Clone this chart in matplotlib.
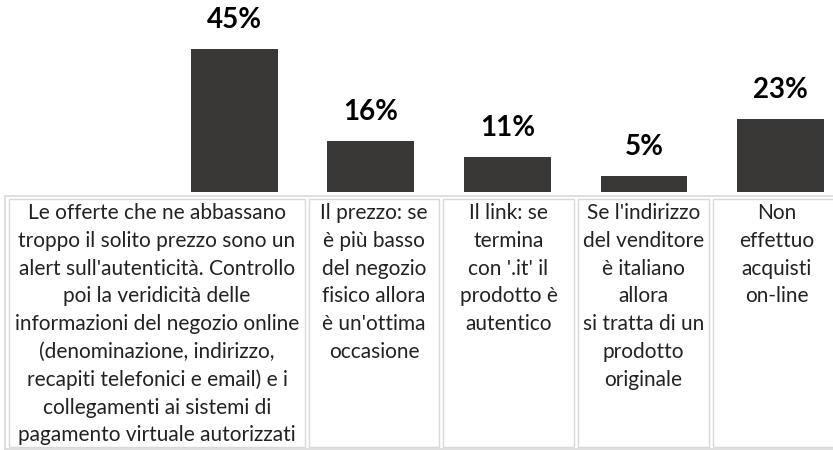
import matplotlib.pyplot as plt
from matplotlib.patches import Rectangle

# survey results
values = [45, 16, 11, 5, 23]
value_labels = ['45%', '16%', '11%', '5%', '23%']
answers = [
    "Le offerte che ne abbassano\ntroppo il solito prezzo sono un\nalert sull'autenticità. Controllo\npoi la veridicità delle\ninformazioni del negozio online\n(denominazione, indirizzo,\nrecapiti telefonici e email) e i\ncollegamenti ai sistemi di\npagamento virtuale autorizzati",
    "Il prezzo: se\nè più basso\ndel negozio\nfisico allora\nè un'ottima\noccasione",
    "Il link: se\ntermina\ncon '.it' il\nprodotto è\nautentico",
    "Se l'indirizzo\ndel venditore\nè italiano\nallora\nsi tratta di un\nprodotto\noriginale",
    "Non\neffettuo\nacquisti\non-line",
]

W, H = 833, 450
BAR_COLOR = '#3a3837'
GRID = '#d9d9d9'

fig = plt.figure(figsize=(W / 100, H / 100), dpi=100)

# bar area (pixel layout: baseline at y=192, first category starts at x=166)
x0, base = 166, 192
ax = fig.add_axes([x0 / W, (H - base) / H, (W - x0) / W, base / H])
xs = range(len(values))
ax.bar(xs, values, width=0.635, color=BAR_COLOR)
ax.set_xlim(-0.5, 4.385)
ax.set_ylim(0, 60.4)
ax.axis('off')
for x, v, lab in zip(xs, values, value_labels):
    ax.annotate(lab, (x, v), xytext=(0, 15), textcoords='offset points',
                ha='center', va='baseline', fontsize=20, fontweight='bold',
                family=['Lato', 'DejaVu Sans'], color='black',
                annotation_clip=False)

# table of answers underneath, drawn in pixel coordinates
tab = fig.add_axes([0, 0, 1, 1], zorder=-1)
tab.set_xlim(0, W)
tab.set_ylim(H, 0)
tab.axis('off')
tab.plot([5, W], [196, 196], color=GRID, lw=1.2)
tab.plot([5, 5], [196, 449], color=GRID, lw=1.2)
tab.plot([5, W], [449, 449], color=GRID, lw=1.2)

cell_edges = [(9, 305), (309, 439), (443, 574), (578, 709), (713, 840)]
top, bottom = 199, 447
pitch = 27.8
for (l, r), txt in zip(cell_edges, answers):
    tab.add_patch(Rectangle((l, top), r - l, bottom - top, fill=False,
                            edgecolor=GRID, lw=1.0))
    cx = (l + r) / 2
    for i, line in enumerate(txt.split('\n')):
        tab.text(cx, 213 + i * pitch, line, ha='center', va='center',
                 fontsize=15, family=['Lato', 'DejaVu Sans'], color='#222222')

fig.savefig('out.png', dpi=100)
